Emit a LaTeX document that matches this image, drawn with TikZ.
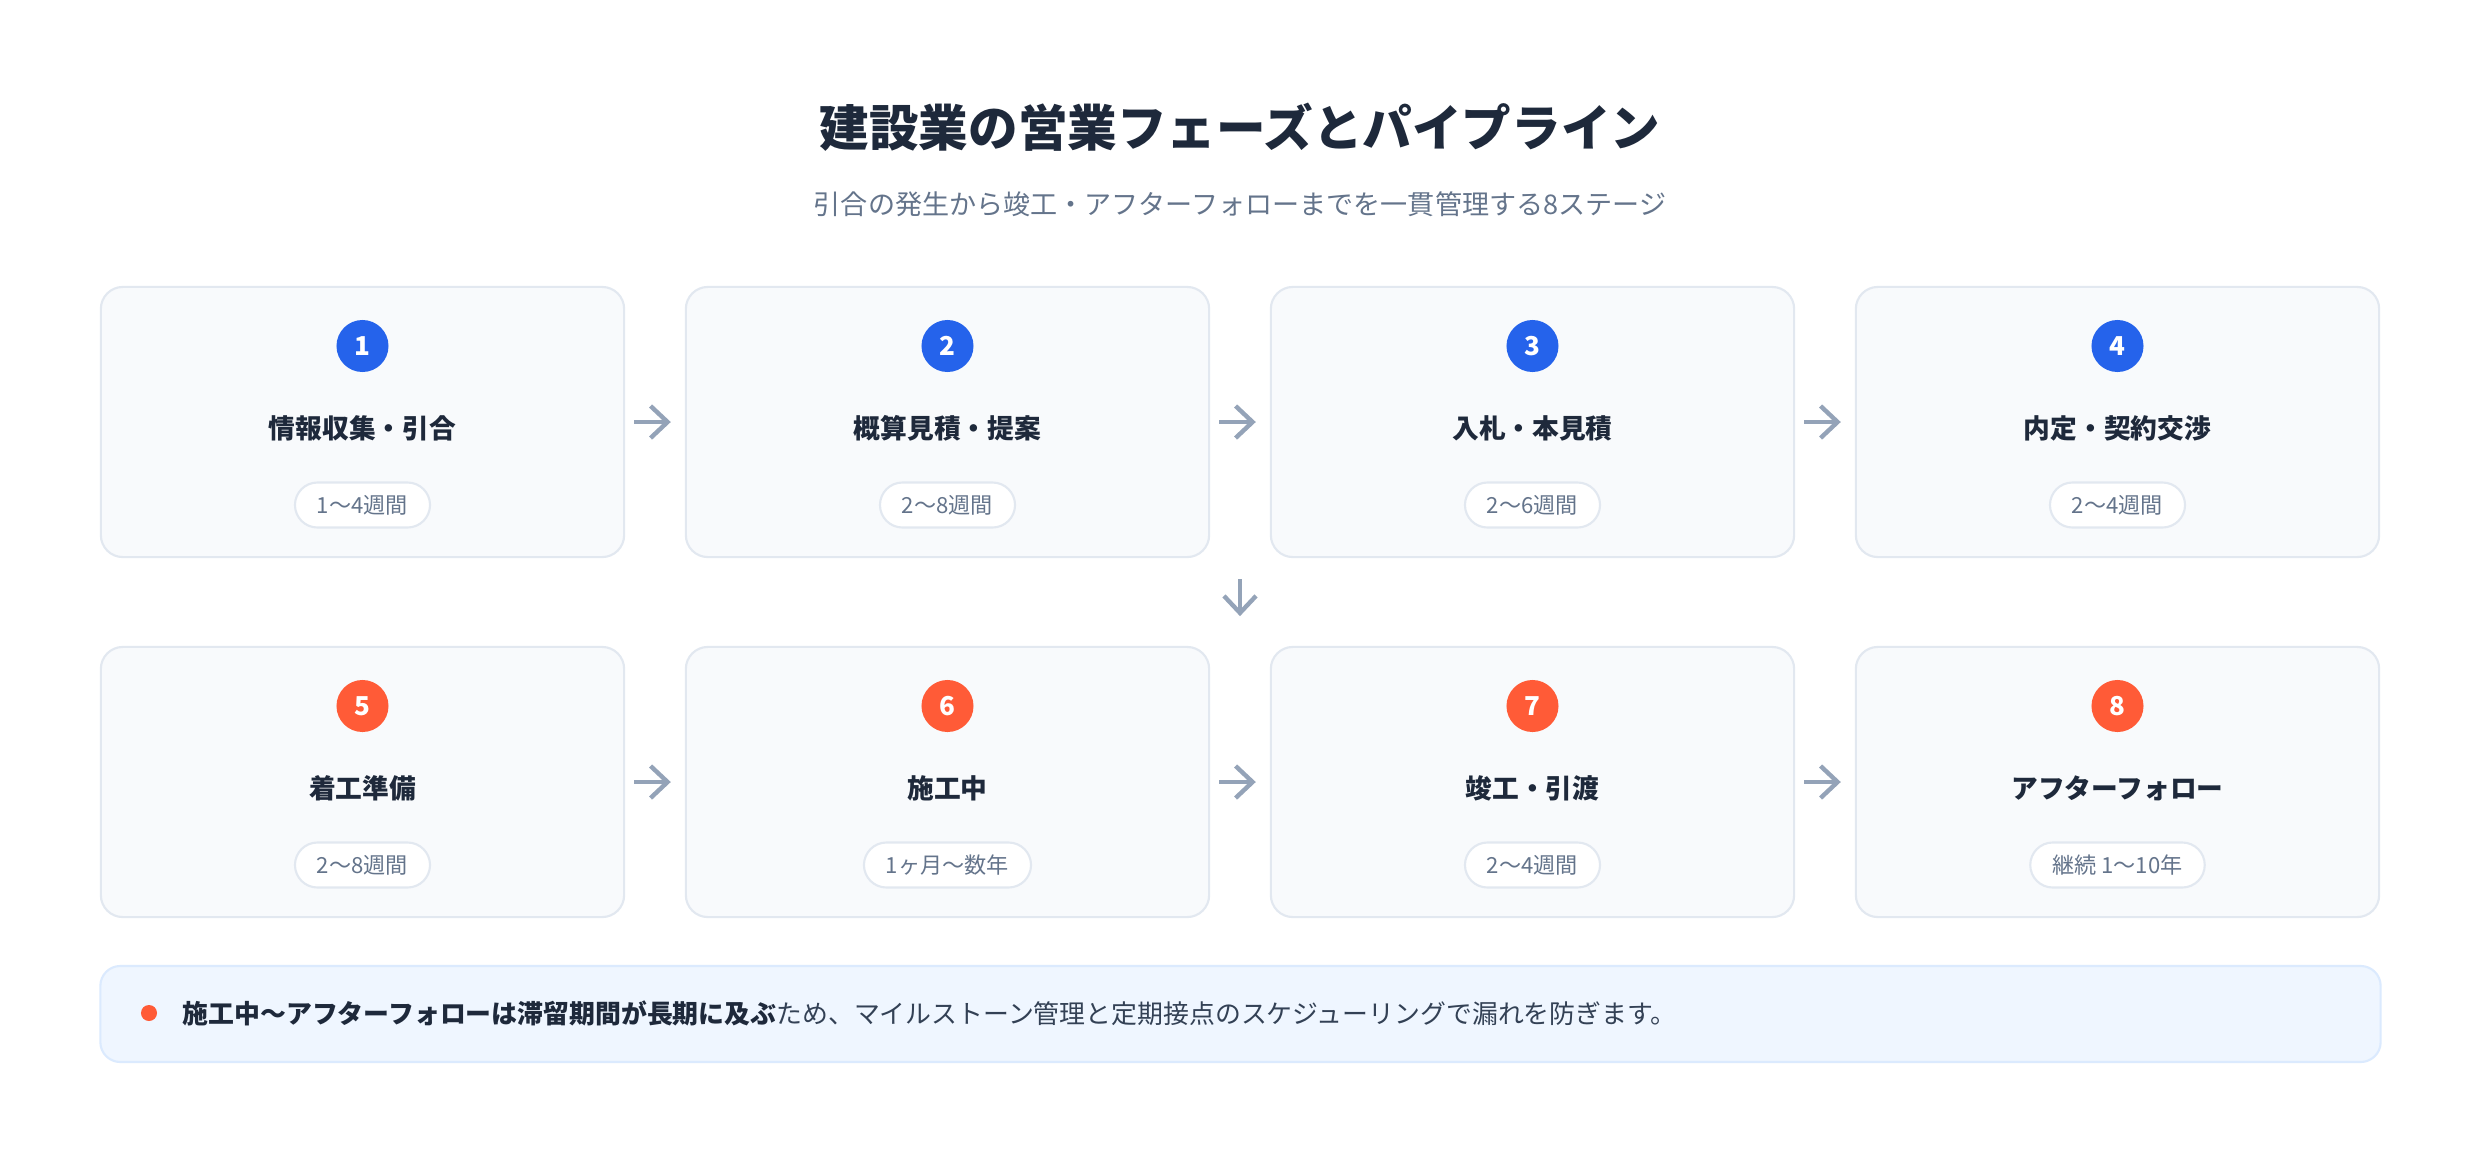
\documentclass[tikz,border=0pt]{standalone}
\usepackage{fontspec}
\setmainfont{Noto Sans CJK JP}
\usetikzlibrary{arrows.meta,positioning,calc}

\definecolor{ink}{HTML}{1E293B}
\definecolor{muted}{HTML}{64748B}
\definecolor{cardfill}{HTML}{F8FAFC}
\definecolor{cardline}{HTML}{E2E8F0}
\definecolor{stepblue}{HTML}{2563EB}
\definecolor{steporange}{HTML}{FF5B37}
\definecolor{arrowgray}{HTML}{94A3B8}
\definecolor{notefill}{HTML}{EFF6FF}
\definecolor{noteline}{HTML}{DBEAFE}
\definecolor{notetext}{HTML}{334155}

\tikzset{
	card/.style={draw=cardline,line width=0.6pt,fill=cardfill,rounded corners=0.22cm,minimum width=5.23cm,minimum height=2.7cm},
	badge/.style={circle,minimum size=0.52cm,inner sep=0pt,text=white,font=\bfseries\fontsize{7.4}{8}\selectfont},
	stagename/.style={text=ink,font=\bfseries\fontsize{7.6}{9}\selectfont},
	pill/.style={draw=cardline,line width=0.6pt,fill=white,rounded corners=0.225cm,minimum height=0.45cm,inner xsep=0.22cm,inner ysep=0pt,text=muted,font=\fontsize{6.3}{7.5}\selectfont},
	flow/.style={draw=arrowgray,line width=1.25pt,-{Straight Barb[length=1.7mm,width=3.2mm]}}
}

\begin{document}
\begin{tikzpicture}[x=0.01cm,y=-0.01cm]
	\fill[white] (0,0) rectangle (2480,1160);
	\useasboundingbox (0,0) rectangle (2480,1160);

	\node[text=ink,font=\bfseries\fontsize{14.1}{16}\selectfont] (title) at (1240,127) {建設業の営業フェーズとパイプライン};
	\node[text=muted,font=\fontsize{7.7}{9}\selectfont] (subtitle) at (1240,204) {引合の発生から竣工・アフターフォローまでを一貫管理する8ステージ};

	% upper row
	\foreach \lbl/\dur [count=\n] in {情報収集・引合/1〜4週間,概算見積・提案/2〜8週間,入札・本見積/2〜6週間,内定・契約交渉/2〜4週間} {
		\node[card] (s\n) at (362.5+585*\n-585,422) {};
		\node[badge,fill=stepblue] (b\n) at ($(s\n)+(0,-76)$) {\n};
		\node[stagename] (t\n) at ($(s\n)+(0,6)$) {\lbl};
		\node[pill] (p\n) at ($(s\n)+(0,83)$) {\dur};
	}

	% lower row
	\foreach \lbl/\dur [count=\n from 5] in {着工準備/2〜8週間,施工中/1ヶ月〜数年,竣工・引渡/2〜4週間,アフターフォロー/継続 1〜10年} {
		\node[card] (s\n) at (362.5+585*\n-2925,782) {};
		\node[badge,fill=steporange] (b\n) at ($(s\n)+(0,-76)$) {\n};
		\node[stagename] (t\n) at ($(s\n)+(0,6)$) {\lbl};
		\node[pill] (p\n) at ($(s\n)+(0,83)$) {\dur};
	}

	\foreach \a/\b in {1/2,2/3,3/4,5/6,6/7,7/8}
		\draw[flow,shorten <=0.09cm,shorten >=0.14cm] (s\a) -- (s\b);

	% turn to the second row
	\coordinate (gap) at ($(s2.south east)!0.5!(s3.south west)$);
	\coordinate (down1) at ($(gap)+(0,21)$);
	\coordinate (down2) at ($(gap)+(0,58)$);
	\draw[flow] (down1) -- (down2);

	% note
	\node[draw=noteline,fill=notefill,line width=0.6pt,rounded corners=0.2cm,minimum width=22.79cm,minimum height=0.96cm] (note) at (1240.5,1014) {};
	\node[circle,fill=steporange,minimum size=0.16cm,inner sep=0pt] (dot) at (149,1013) {};
	\node[anchor=west,inner sep=0pt,text=notetext,font=\fontsize{7.36}{9}\selectfont] (notetxt) at (182,1013) {{\bfseries\color{ink}施工中〜アフターフォローは滞留期間が長期に及ぶ}ため、マイルストーン管理と定期接点のスケジューリングで漏れを防ぎます。};
\end{tikzpicture}
\end{document}
